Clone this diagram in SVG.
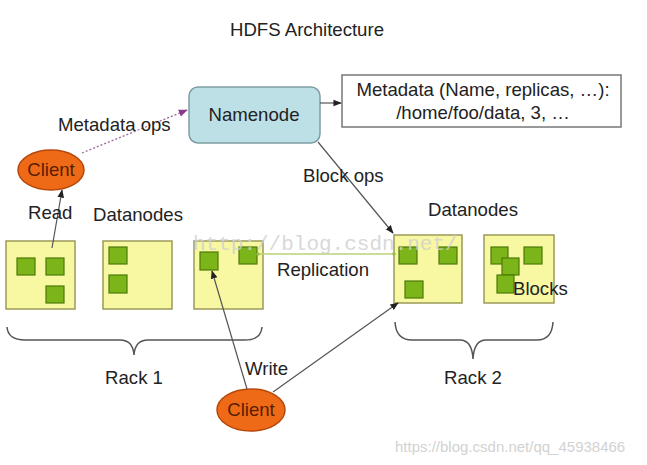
<svg xmlns="http://www.w3.org/2000/svg" width="647" height="465" viewBox="0 0 647 465">
<style>
text{font-family:"Liberation Sans",Arial,sans-serif;font-size:18.6px;fill:#222}
.dn{fill:#f8f8a2;stroke:#9a9a5a;stroke-width:1.5}
.blk{fill:#7cb51a;stroke:#4f7a08;stroke-width:1.2}
.client{fill:#ef6a16;stroke:#b5480a;stroke-width:1.5}
.ctext{fill:#5a1e00;text-anchor:middle}
.ln{stroke:#555;stroke-width:1.2;fill:none}
.brace{stroke:#555;stroke-width:1.5;fill:none}
.mid{text-anchor:middle}
</style>
<defs>
<marker id="ah" viewBox="0 0 10 10" refX="9" refY="5" markerWidth="7" markerHeight="7" orient="auto"><path d="M0,1 L10,5 L0,9 z" fill="#222"/></marker>
<marker id="ahp" viewBox="0 0 10 10" refX="9" refY="5" markerWidth="7" markerHeight="7" orient="auto"><path d="M0,1 L10,5 L0,9 z" fill="#8a3a8a"/></marker>
</defs>
<rect width="647" height="465" fill="#fff"/>
<text x="307" y="36" class="mid">HDFS Architecture</text>

<g id="namenode">
<rect x="189" y="87" width="131" height="56" rx="9" fill="#bde0e6" stroke="#7e9ea4" stroke-width="1.5"/>
<text x="254" y="121" class="mid">Namenode</text>
</g>
<g id="metadata">
<rect x="342" y="75" width="279" height="52" fill="#fff" stroke="#777" stroke-width="1.5"/>
<text x="483" y="96" class="mid">Metadata (Name, replicas, …):</text>
<text x="483" y="119" class="mid">/home/foo/data, 3, …</text>
</g>
<g id="client-read">
<ellipse cx="51" cy="170" rx="33" ry="20" class="client"/>
<text x="51" y="176" class="ctext">Client</text>
</g>
<g id="client-write">
<ellipse cx="251" cy="410" rx="34" ry="21" class="client"/>
<text x="251" y="416" class="ctext">Client</text>
</g>

<g id="rack1">
<g id="dn1"><rect x="6" y="241" width="69" height="68" class="dn"/>
<rect x="17" y="258" width="18" height="17" class="blk"/><rect x="46" y="258" width="18" height="17" class="blk"/><rect x="46" y="286" width="18" height="17" class="blk"/></g>
<g id="dn2"><rect x="103" y="241" width="69" height="68" class="dn"/>
<rect x="109" y="247" width="18" height="17" class="blk"/><rect x="109" y="275" width="18" height="18" class="blk"/></g>
<g id="dn3"><rect x="194" y="241" width="69" height="68" class="dn"/>
<rect x="200" y="252" width="18" height="18" class="blk"/><rect x="239" y="247" width="18" height="17" class="blk"/></g>
</g>
<g id="rack2">
<g id="dn4"><rect x="394" y="235" width="68" height="68" class="dn"/>
<rect x="399" y="247" width="18" height="17" class="blk"/><rect x="439" y="247" width="18" height="17" class="blk"/><rect x="405" y="281" width="18" height="17" class="blk"/></g>
<g id="dn5"><rect x="484" y="235" width="70" height="68" class="dn"/>
<rect x="491" y="247" width="17" height="17" class="blk"/><rect x="524" y="247" width="18" height="17" class="blk"/><rect x="502" y="258" width="17" height="17" class="blk"/><rect x="497" y="275" width="17" height="18" class="blk"/></g>
</g>

<g id="connectors">
<line x1="320" y1="103" x2="341" y2="103" class="ln" marker-end="url(#ah)"/>
<line x1="82" y1="153" x2="187" y2="110" stroke="#9a6a9a" stroke-width="1.3" stroke-dasharray="2,2" fill="none" marker-end="url(#ahp)"/>
<line x1="52" y1="248" x2="62" y2="190" class="ln" marker-end="url(#ah)"/>
<line x1="318" y1="142" x2="393" y2="233" class="ln" marker-end="url(#ah)"/>
<line x1="257" y1="254" x2="394" y2="254" stroke="#b8d27a" stroke-width="1.5"/>
<circle cx="258" cy="254" r="1.8" fill="#9cbc4a"/><circle cx="394" cy="254" r="1.8" fill="#9cbc4a"/>
<line x1="247" y1="389" x2="212" y2="271" class="ln" marker-end="url(#ah)"/>
<line x1="273" y1="392" x2="398" y2="303" class="ln" marker-end="url(#ah)"/>
<path d="M7,327 Q8,340 25,340 L120,340 Q133,340 134,355 Q135,340 148,340 L245,340 Q261,340 262,327" class="brace"/>
<path d="M395,322 Q396,340 412,340 L460,340 Q472,340 473,359 Q474,340 486,340 L537,340 Q552,340 553,322" class="brace"/>
</g>

<text x="58" y="131">Metadata ops</text>
<text x="28" y="219">Read</text>
<text x="93" y="221">Datanodes</text>
<text x="303" y="182">Block ops</text>
<text x="428" y="216">Datanodes</text>
<text x="277" y="276">Replication</text>
<text x="513" y="295">Blocks</text>
<text x="134" y="384" class="mid">Rack 1</text>
<text x="473" y="384" class="mid">Rack 2</text>
<text x="245" y="375">Write</text>
<text x="193" y="250" style="font-family:'Liberation Mono',monospace;font-size:21px;fill:#d0d0d0;opacity:0.8">http://blog.csdn.net/</text>
<text x="395" y="452" style="font-size:15px;fill:#d2d2d2">https://blog.csdn.net/qq_45938466</text>
</svg>
